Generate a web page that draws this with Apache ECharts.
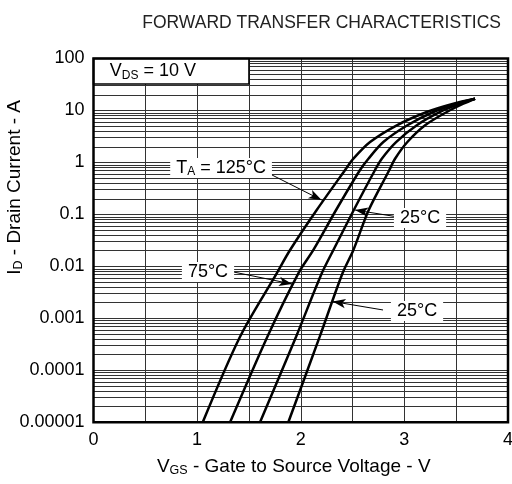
<!DOCTYPE html>
<html><head><meta charset="utf-8">
<script src="https://cdn.jsdelivr.net/npm/echarts@6/dist/echarts.min.js"></script>
<style>html,body{margin:0;padding:0;background:#fff}#c{width:512px;height:484px}</style>
</head><body><div id="c"></div>
<script>
// Drain current levels (A) at which gate voltages were read
const currentLevels = [1e-5, 4.44e-4, 7.36e-3, 0.0207, 0.1216, 0.715, 1.18, 2.47, 5.19, 9.35, 13.5, 16.8];
// Gate-source voltages (V) for each curve
const vgs125 = [1.054, 1.414, 1.768, 1.897, 2.154, 2.428, 2.508, 2.669, 2.927, 3.216, 3.473, 3.682];
const vgs75  = [1.318, 1.678, 1.977, 2.122, 2.341, 2.572, 2.653, 2.797, 3.029, 3.280, 3.506, 3.682];
const vgs25a = [1.607, 1.955, 2.203, 2.315, 2.512, 2.717, 2.782, 2.920, 3.120, 3.345, 3.538, 3.682];
const vgs25b = [1.880, 2.183, 2.403, 2.508, 2.656, 2.855, 2.910, 3.029, 3.200, 3.409, 3.569, 3.682];
// Tick labels
const yTickLabels = ['0.00001', '0.0001', '0.001', '0.01', '0.1', '1', '10', '100'];
const xTickLabels = ['0', '1', '2', '3', '4'];
const minorMultipliers = [2, 3, 4, 5, 6, 7, 8, 9];
const decadeExponents = [-5, -4, -3, -2, -1, 0, 1];
// Annotation texts and anchors (data coords)
const annTexts = ['{m|T}{s|A}{m| = 125°C}', '{m|75°C}', '{m|25°C}', '{m|25°C}'];
const annPos = [[1.231, 0.782], [1.105, 0.0078], [3.151, 0.0853], [3.122, 0.00138]];
const arrowFrom = [[1.723, 0.573], [1.351, 0.0078], [2.910, 0.0912], [2.794, 0.00145]];
const arrowTo = [[2.201, 0.189], [1.916, 0.00458], [2.524, 0.1216], [2.307, 0.00211]];
// Condition box
const condText = '{m|V}{s|DS}{m| = 10 V}';
const condBox = [[0, 100], [1.5, 32.3]];

const FONT = 'Liberation Sans, Arial, Helvetica, sans-serif';
const richStyle = {
  m: {fontSize: 18, color: '#000', fontFamily: FONT, lineHeight: 20},
  s: {fontSize: 12, color: '#000', fontFamily: FONT, lineHeight: 14, verticalAlign: 'bottom'}
};
const richName = {
  m: {fontSize: 19, color: '#000', fontFamily: FONT, lineHeight: 21},
  s: {fontSize: 12.5, color: '#000', fontFamily: FONT, lineHeight: 15, verticalAlign: 'bottom'}
};

const minorValues = [];
decadeExponents.forEach(e => minorMultipliers.forEach(k => minorValues.push(k * Math.pow(10, e))));

const curveStyle = {color: '#000', width: 2.5};
function curve(vs) { return vs.map((v, i) => [v, currentLevels[i]]); }
function curveSeries(name, vs) {
  return {name, type: 'line', data: curve(vs), smooth: 0.3, symbol: 'none', z: 4,
    lineStyle: curveStyle, itemStyle: {color: '#000'}, silent: true};
}

const chart = echarts.init(document.getElementById('c'), null, {renderer: 'canvas'});
chart.setOption({
  animation: false,
  backgroundColor: '#fff',
  title: {
    text: 'FORWARD TRANSFER CHARACTERISTICS', right: 6, top: 9,
    textStyle: {fontSize: 17.5, fontWeight: 'normal', color: '#222', fontFamily: FONT}
  },
  grid: {left: 93.5, right: 4, top: 58.5, bottom: 61.7, show: true, borderColor: '#000', borderWidth: 2.5, z: 10,
    outerBoundsMode: 'none', containLabel: false},
  xAxis: {
    type: 'value', min: 0, max: 4, interval: 0.5,
    name: '{m|V}{s|GS}{m| - Gate to Source Voltage - V}', nameLocation: 'middle', nameGap: 34,
    nameMoveOverlap: false,
    nameTextStyle: {rich: richName, padding: [0, 14, 0, 0]},
    axisLine: {show: false}, axisTick: {show: false},
    axisLabel: {margin: 9, fontSize: 18, color: '#000', fontFamily: FONT,
      formatter: v => (Math.abs(v - Math.round(v)) < 1e-9 ? xTickLabels[Math.round(v)] : '')},
    splitLine: {show: true, lineStyle: {color: '#333', width: 1}}
  },
  yAxis: {
    type: 'log', logBase: 10, min: 1e-5, max: 100, splitNumber: 7,
    name: '{m|I}{s|D}{m| - Drain Current - A}', nameLocation: 'middle', nameGap: 68, nameRotate: 90,
    nameMoveOverlap: false,
    nameTextStyle: {rich: richName, padding: [0, 0, 0, 106]},
    axisLine: {show: false}, axisTick: {show: false},
    axisLabel: {margin: 9, fontSize: 18, color: '#000', fontFamily: FONT,
      formatter: v => yTickLabels[Math.round(Math.log10(v)) + 5]},
    splitLine: {show: true, lineStyle: {color: '#333', width: 1}}
  },
  series: [
    {
      name: 'minor', type: 'line', data: [], silent: true, z: 1,
      markLine: {silent: true, z: 1, symbol: 'none', animation: false, precision: 12, label: {show: false},
        lineStyle: {color: '#333', width: 1, type: 'solid'},
        data: minorValues.map(v => ({yAxis: v}))}
    },
    {
      name: 'cond', type: 'line', data: [], silent: true, z: 3,
      markArea: {silent: true, z: 3, animation: false,
        itemStyle: {color: '#fff', borderColor: '#000', borderWidth: 1.5},
        label: {show: true, position: 'insideLeft', distance: 17, formatter: condText, rich: richStyle},
        data: [[{xAxis: condBox[0][0], yAxis: condBox[0][1]}, {xAxis: condBox[1][0], yAxis: condBox[1][1]}]]}
    },
    curveSeries('125', vgs125),
    curveSeries('75', vgs75),
    curveSeries('25a', vgs25a),
    curveSeries('25b', vgs25b),
    {
      name: 'ann', type: 'line', data: [], silent: true, z: 6,
      markLine: {silent: true, z: 6, animation: false, precision: 12, symbol: ['none', 'arrow'], symbolSize: [7, 13],
        label: {show: false}, lineStyle: {color: '#000', width: 1, type: 'solid'}, itemStyle: {color: '#000'},
        data: arrowFrom.map((p, i) => [{coord: p}, {coord: arrowTo[i]}])},
      markPoint: {silent: true, z: 7, animation: false, symbol: 'rect', symbolSize: 1, itemStyle: {color: '#fff'},
        label: {show: true, position: 'inside', backgroundColor: '#fff', padding: [0, 6],
          rich: richStyle},
        data: annPos.map((p, i) => ({coord: p, label: {formatter: annTexts[i]}}))}
    }
  ]
});
</script></body></html>
